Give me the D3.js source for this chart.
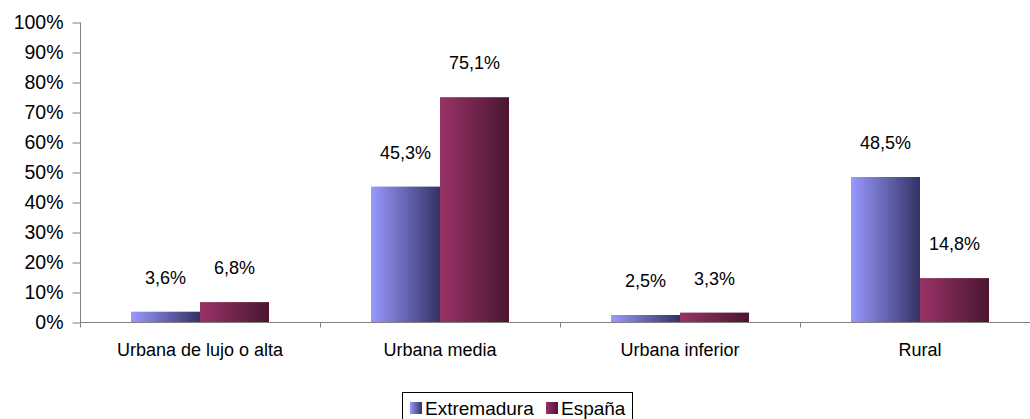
<!DOCTYPE html>
<html><head><meta charset="utf-8">
<script src="https://cdn.jsdelivr.net/npm/d3@7"></script>
<style>body{margin:0;background:#fff}svg{display:block}text{font-family:"Liberation Sans",Arial,sans-serif;fill:#000}</style>
</head><body><svg id="c" width="1030" height="419"></svg>
<script>
const categories = ["Urbana de lujo o alta","Urbana media","Urbana inferior","Rural"];
const seriesNames = ["Extremadura","España"];
const extremadura = [3.6,45.3,2.5,48.5];
const espana = [6.8,75.1,3.3,14.8];
const yTicks = [0,10,20,30,40,50,60,70,80,90,100];

const svg = d3.select("#c");
const defs = svg.append("defs");
const grads = [["gExt","#9999ff","#333366"],["gEsp","#993366","#4a1632"]];
grads.forEach(([id,a,b])=>{
  const g = defs.append("linearGradient").attr("id",id).attr("x1","0").attr("x2","1").attr("y1","0").attr("y2","0");
  g.append("stop").attr("offset","0%").attr("stop-color",a);
  g.append("stop").attr("offset","100%").attr("stop-color",b);
});
const fills = ["url(#gExt)","url(#gEsp)"];

const x = d3.scaleBand().domain(categories).range([80,1040]).paddingInner(0).paddingOuter(0);
const inner = d3.scaleBand().domain(seriesNames).range([51, x.bandwidth()-51]);
const y = d3.scaleLinear().domain([0,100]).range([322.5,22.5]);

// y axis
const yAx = svg.append("g").attr("transform","translate(80.5,0)")
  .call(d3.axisLeft(y).tickValues(yTicks).tickSize(8).tickPadding(9).tickFormat(d=>d+"%"));
yAx.select(".domain").attr("stroke","#808080").attr("d","M0,22.5V322.5");
yAx.selectAll(".tick line").attr("stroke","#808080");
yAx.selectAll(".tick text").style("font-size","19.5px").attr("fill","#000");

const series = [extremadura, espana];
const g = svg.append("g");
series.forEach((vals,si)=>{
  g.selectAll(null).data(categories).enter().append("rect")
    .attr("x",c=>x(c)+inner(seriesNames[si]))
    .attr("width",inner.bandwidth())
    .attr("y",(c,i)=>y(vals[i]))
    .attr("height",(c,i)=>y(0)-y(vals[i]))
    .attr("fill",fills[si]);
  g.selectAll(null).data(categories).enter().append("text")
    .attr("x",c=>x(c)+inner(seriesNames[si])+inner.bandwidth()/2)
    .attr("y",(c,i)=>y(vals[i])-28)
    .attr("text-anchor","middle").style("font-size","18px")
    .text((c,i)=>vals[i].toFixed(1).replace(".",",")+"%");
});

// x axis
const xAx = svg.append("g").attr("transform","translate(0,322.5)");
xAx.append("line").attr("x1",80).attr("x2",1040).attr("stroke","#808080");
xAx.selectAll(null).data(categories.concat([null])).enter().append("line")
  .attr("x1",(c,i)=>i<categories.length? x(c)+0.5 : x.range()[1]+0.5)
  .attr("x2",(c,i)=>i<categories.length? x(c)+0.5 : x.range()[1]+0.5)
  .attr("y1",0).attr("y2",5).attr("stroke","#808080");
xAx.selectAll(null).data(categories).enter().append("text")
  .attr("x",c=>x(c)+x.bandwidth()/2).attr("y",33)
  .attr("text-anchor","middle").style("font-size","18px").text(c=>c);

// legend
const lg = svg.append("g");
lg.append("rect").attr("x",402.5).attr("y",392.5).attr("width",230).attr("height",40)
  .attr("fill","#fff").attr("stroke","#000").attr("stroke-width",1);
const lx = [410,546];
seriesNames.forEach((n,i)=>{
  lg.append("rect").attr("x",lx[i]).attr("y",402).attr("width",12).attr("height",12).attr("fill",fills[i]);
  lg.append("text").attr("x",lx[i]+15).attr("y",415).style("font-size","19px").text(n);
});
</script></body></html>
